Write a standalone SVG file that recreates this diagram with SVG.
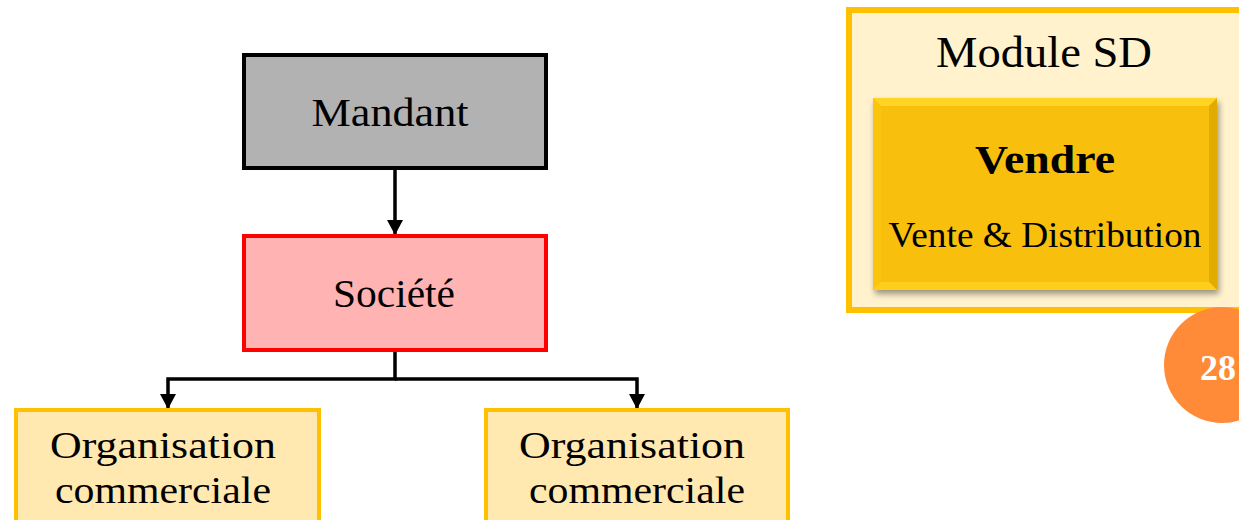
<svg xmlns="http://www.w3.org/2000/svg" width="1239" height="520" viewBox="0 0 1239 520">
<style>
.t{font-family:"Liberation Serif","DejaVu Serif",serif;fill:#000;text-anchor:middle}
.org{fill:#FFE9B0;stroke:#FFC000;stroke-width:4}
.conn{fill:none;stroke:#000;stroke-width:3.5}
</style>
<defs>
<marker id="ah" markerWidth="16" markerHeight="16" refX="14" refY="8" orient="auto" markerUnits="userSpaceOnUse">
<path d="M0,0 L15,8 L0,16 Z" fill="#000"/>
</marker>
<filter id="sh" x="-10%" y="-10%" width="130%" height="130%">
<feGaussianBlur in="SourceAlpha" stdDeviation="3"/>
<feOffset dx="2" dy="4"/>
<feComponentTransfer><feFuncA type="linear" slope="0.4"/></feComponentTransfer>
<feMerge><feMergeNode/><feMergeNode in="SourceGraphic"/></feMerge>
</filter>
</defs>
<rect width="1239" height="520" fill="#fff"/>
<g id="connectors">
<path class="conn" d="M395,170 V234" marker-end="url(#ah)"/>
<path class="conn" d="M395,352 V379 H168 V408" marker-end="url(#ah)"/>
<path class="conn" d="M395,379 H637 V408" marker-end="url(#ah)"/>
</g>
<g id="mandant">
<rect x="244" y="55" width="302" height="113" fill="#B2B2B2" stroke="#000" stroke-width="4"/>
<text class="t" x="390" y="126" font-size="40" textLength="157" lengthAdjust="spacingAndGlyphs">Mandant</text>
</g>
<g id="societe">
<rect x="244" y="236" width="302" height="114" fill="#FFB3B3" stroke="#FF0000" stroke-width="4"/>
<text class="t" x="394" y="307" font-size="40" textLength="122" lengthAdjust="spacingAndGlyphs">Société</text>
</g>
<g id="org1">
<rect class="org" x="16" y="410" width="303" height="130"/>
<text class="t" x="163" y="458" font-size="38" textLength="226" lengthAdjust="spacingAndGlyphs">Organisation</text>
<text class="t" x="163" y="503" font-size="38" textLength="216" lengthAdjust="spacingAndGlyphs">commerciale</text>
</g>
<g id="org2">
<rect class="org" x="486" y="410" width="302" height="130"/>
<text class="t" x="632" y="458" font-size="38" textLength="226" lengthAdjust="spacingAndGlyphs">Organisation</text>
<text class="t" x="637" y="503" font-size="38" textLength="216" lengthAdjust="spacingAndGlyphs">commerciale</text>
</g>
<g id="module-sd">
<rect x="849" y="10" width="400" height="300" fill="#FFF2CC" stroke="#FFC000" stroke-width="6"/>
<text class="t" x="1044" y="67" font-size="44" textLength="216" lengthAdjust="spacingAndGlyphs">Module SD</text>
<g id="vendre" filter="url(#sh)">
<rect x="873" y="98" width="344" height="192" fill="#F9BF0A"/>
<polygon points="873,98 1217,98 1209,106 881,106" fill="#FFD424"/>
<polygon points="873,98 881,106 881,282 873,290" fill="#FBC511"/>
<polygon points="1217,98 1217,290 1209,282 1209,106" fill="#E2AB02"/>
<polygon points="873,290 881,282 1209,282 1217,290" fill="#FFCE1A"/>
</g>
<text class="t" x="1045" y="173" font-size="40" font-weight="bold" textLength="140" lengthAdjust="spacingAndGlyphs">Vendre</text>
<text class="t" x="1045" y="247" font-size="36" textLength="313" lengthAdjust="spacingAndGlyphs">Vente &amp; Distribution</text>
</g>
<g id="page-number">
<circle cx="1222" cy="365" r="58" fill="#FF8B38"/>
<text x="1200" y="380" font-family="Liberation Serif,serif" font-size="36" font-weight="bold" fill="#fff">28</text>
</g>
</svg>
